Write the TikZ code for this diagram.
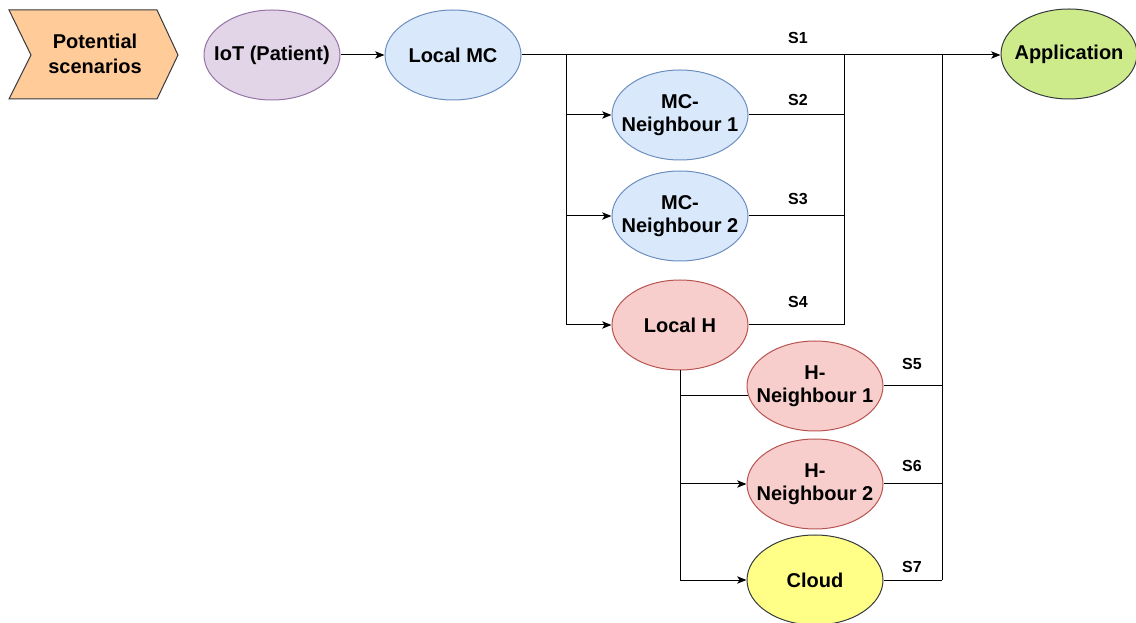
\documentclass[tikz,border=0pt]{standalone}
\usepackage{fontspec}
\setmainfont{Liberation Sans}
\usetikzlibrary{shapes.geometric,arrows.meta}
\definecolor{orangefill}{HTML}{FFCC99}
\definecolor{darkline}{HTML}{36393D}
\definecolor{purplefill}{HTML}{E1D5E7}
\definecolor{purpleline}{HTML}{9673A6}
\definecolor{bluefill}{HTML}{DAE8FC}
\definecolor{blueline}{HTML}{6C8EBF}
\definecolor{redfill}{HTML}{F8CECC}
\definecolor{redline}{HTML}{B85450}
\definecolor{greenfill}{HTML}{CDEB8B}
\definecolor{yellowfill}{HTML}{FFFF88}
\tikzset{
  oval/.style={ellipse, draw, line width=0.75pt, minimum width=102pt, minimum height=67.5pt,
    inner xsep=-20pt, inner ysep=-6pt, align=center, font=\bfseries\fontsize{15}{17}\selectfont},
  iotnode/.style={oval, fill=purplefill, draw=purpleline},
  mcnode/.style={oval, fill=bluefill, draw=blueline},
  hnode/.style={oval, fill=redfill, draw=redline},
  appnode/.style={oval, fill=greenfill, draw=darkline},
  cloudnode/.style={oval, fill=yellowfill, draw=darkline},
  wire/.style={line width=0.75pt, draw=black},
  arrowwire/.style={wire, -{Stealth[length=7pt,width=5.5pt,inset=1.8pt]}},
  slabel/.style={font=\bfseries\fontsize{12}{14}\selectfont, inner sep=0pt}
}
\begin{document}
\begin{tikzpicture}[x=0.75pt,y=-0.75pt]
\useasboundingbox (0,0) rectangle (1136,623);

% step chevron
\draw[fill=orangefill, draw=darkline, line width=0.75pt]
  (9,10) -- (157,10) -- (178,55) -- (157,99) -- (9,99) -- (31,55) -- cycle;
\node[align=center, font=\bfseries\fontsize{15}{19}\selectfont] (scen) at (95,54) {Potential\\scenarios};

% nodes
\node[iotnode] (iot) at (272,55) {IoT (Patient)};
\node[mcnode] (lmc) at (453,55) {Local MC};
\node[appnode] (app) at (1069,54) {Application};
\node[mcnode] (mcn1) at (680,115) {MC-\\Neighbour 1};
\node[mcnode] (mcn2) at (680,216) {MC-\\Neighbour 2};
\node[hnode] (lh) at (680,325) {Local H};
\node[hnode] (hn1) at (815,386) {H-\\Neighbour 1};
\node[hnode] (hn2) at (815,484) {H-\\Neighbour 2};
\node[cloudnode] (cloud) at (815,580) {Cloud};

% junction points of the buses
\coordinate (split) at (566,55);
\coordinate (busA) at (844,55);
\coordinate (busB) at (942,55);
\coordinate (hsplit) at (680,370);

% main path
\draw[arrowwire] (iot) -- (lmc);
\draw[arrowwire] (lmc.east) -- (lmc.east -| app.west);

% fan-out from local MC
\draw[wire] (split) -- (split |- lh.west);
\draw[arrowwire] (split |- mcn1.west) -- (mcn1.west);
\draw[arrowwire] (split |- mcn2.west) -- (mcn2.west);
\draw[arrowwire] (split |- lh.west) -- (lh.west);

% return bus for S2-S4
\draw[wire] (busA) -- (busA |- lh.east);
\draw[wire] (mcn1.east) -- (mcn1.east -| busA);
\draw[wire] (mcn2.east) -- (mcn2.east -| busA);
\draw[wire] (lh.east) -- (lh.east -| busA);

% fan-out from local H
\draw[wire] (lh.south) -- (lh.south |- cloud.west);
\draw[wire] (hsplit |- hn1.188) -- (hn1.188);
\draw[arrowwire] (hsplit |- hn2.west) -- (hn2.west);
\draw[arrowwire] (hsplit |- cloud.west) -- (cloud.west);

% return bus for S5-S7
\draw[wire] (busB) -- (busB |- cloud.east);
\draw[wire] (hn1.east) -- (hn1.east -| busB);
\draw[wire] (hn2.east) -- (hn2.east -| busB);
\draw[wire] (cloud.east) -- (cloud.east -| busB);

% scenario labels
\node[slabel] (s1) at (798,38) {S1};
\node[slabel] (s2) at (798,100) {S2};
\node[slabel] (s3) at (798,199) {S3};
\node[slabel] (s4) at (798,302) {S4};
\node[slabel] (s5) at (912,364) {S5};
\node[slabel] (s6) at (912,466) {S6};
\node[slabel] (s7) at (912,567) {S7};
\end{tikzpicture}
\end{document}
